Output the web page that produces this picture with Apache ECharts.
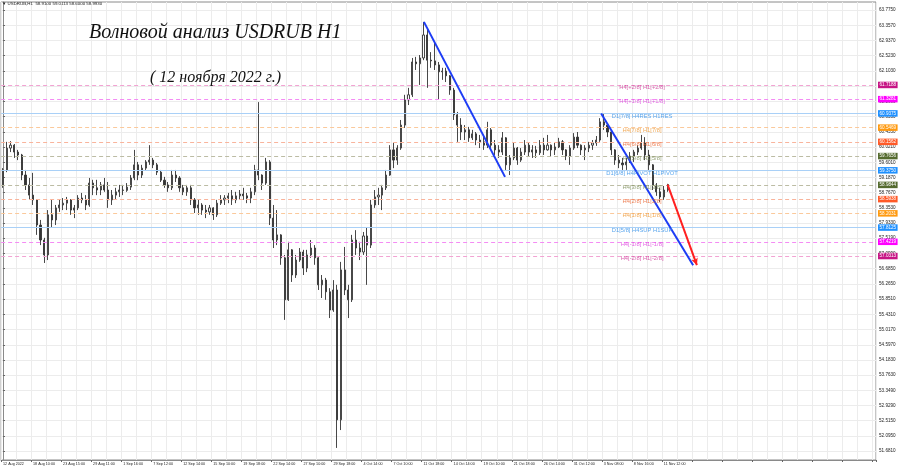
<!DOCTYPE html>
<html><head><meta charset="utf-8">
<script src="https://cdn.jsdelivr.net/npm/echarts@6/dist/echarts.min.js"></script>
<style>html,body{margin:0;padding:0;background:#fff}#c{width:900px;height:468px}</style>
</head><body><div id="c"></div>
<script>
// ---- data ----
const tickLabels = ['12 Aug 2022','18 Aug 10:00','23 Aug 15:00','29 Aug 11:00','1 Sep 16:00','7 Sep 12:00','12 Sep 14:00','15 Sep 10:00','19 Sep 18:00','22 Sep 14:00','27 Sep 10:00','29 Sep 18:00','4 Oct 14:00','7 Oct 10:00','11 Oct 18:00','14 Oct 14:00','19 Oct 10:00','21 Oct 18:00','26 Oct 14:00','31 Oct 12:00','3 Nov 08:00','8 Nov 16:00','11 Nov 12:00'];
const yTicks = [51.681,52.095,52.515,52.929,53.349,53.763,54.183,54.597,55.017,55.431,55.851,56.265,56.685,57.099,57.519,57.933,58.353,58.767,59.187,59.601,60.021,60.435,60.855,61.269,61.689,62.103,62.523,62.937,63.357,63.775];

const opens = [58.98,59.39,59.99,60.07,59.88,59.80,59.25,58.98,58.70,58.57,
57.88,57.47,57.06,58.16,58.02,58.35,58.43,58.48,58.57,58.29,
58.35,58.62,58.57,58.43,59.03,58.90,58.84,58.98,58.84,58.57,
58.70,58.79,58.84,58.83,58.92,59.17,59.53,59.25,59.44,59.61,
59.66,59.53,59.33,59.11,58.98,58.90,59.25,59.17,58.90,58.79,
58.90,58.57,58.35,58.43,58.29,58.24,58.35,58.16,58.48,58.57,
58.62,58.68,58.57,58.68,58.73,58.68,58.62,58.79,59.39,59.25,
59.03,59.61,58.07,57.47,57.61,56.98,55.83,57.20,56.51,56.92,
57.14,56.70,57.06,57.25,56.98,56.24,56.37,56.05,55.55,56.10,
52.54,56.65,56.10,55.83,57.47,57.25,57.14,57.58,57.33,58.43,
58.65,58.70,58.90,59.25,59.94,59.66,59.99,60.62,61.31,61.45,
62.35,62.30,62.46,63.09,62.40,62.38,62.27,62.08,62.10,61.97,
61.58,60.90,60.62,60.43,60.49,60.27,60.38,60.21,60.16,60.07,
60.49,60.07,59.94,59.88,60.27,59.53,59.72,59.99,59.66,59.88,
60.07,59.88,59.94,59.86,60.07,59.94,60.07,59.94,60.02,60.16,
59.94,59.77,59.99,60.29,60.07,59.94,59.99,60.07,60.13,60.21,
60.71,60.62,60.43,59.94,59.66,59.58,59.53,59.61,59.77,59.88,
59.99,60.13,59.80,59.53,58.98,58.79,58.65,58.84];
const closes = [59.39,59.99,60.07,59.88,59.80,59.25,58.98,58.70,58.57,57.88,
57.47,57.06,58.16,58.02,58.35,58.43,58.48,58.57,58.29,58.35,
58.62,58.57,58.43,59.03,58.90,58.84,58.98,58.84,58.57,58.70,
58.79,58.84,58.83,58.92,59.17,59.53,59.25,59.44,59.61,59.66,
59.53,59.33,59.11,58.98,58.90,59.25,59.17,58.90,58.79,58.90,
58.57,58.35,58.43,58.29,58.24,58.35,58.16,58.48,58.57,58.62,
58.68,58.57,58.68,58.73,58.68,58.62,58.79,59.39,59.25,59.03,
59.61,58.07,57.47,57.61,56.98,55.83,57.20,56.51,56.92,57.14,
56.70,57.06,57.25,56.98,56.24,56.37,56.05,55.55,56.10,52.54,
56.65,56.10,55.83,57.47,57.25,57.14,57.58,57.33,58.43,58.65,
58.70,58.90,59.25,59.94,59.66,59.99,60.62,61.31,61.45,62.35,
62.30,62.46,63.09,62.40,62.38,62.27,62.08,62.10,61.97,61.58,
60.90,60.62,60.43,60.49,60.27,60.38,60.21,60.16,60.07,60.49,
60.07,59.94,59.88,60.27,59.53,59.72,59.99,59.66,59.88,60.07,
59.88,59.94,59.86,60.07,59.94,60.07,59.94,60.02,60.16,59.94,
59.77,59.99,60.29,60.07,59.94,59.99,60.07,60.13,60.21,60.71,
60.62,60.43,59.94,59.66,59.58,59.53,59.61,59.77,59.88,59.99,
60.13,59.80,59.53,58.98,58.79,58.65,58.84,58.99];
const lows = [58.90,59.33,59.88,59.72,59.66,59.11,58.84,58.57,58.43,57.61,
57.33,56.84,56.92,57.80,57.88,58.24,58.29,58.29,58.16,58.07,
58.29,58.48,58.29,58.38,58.70,58.70,58.70,58.79,58.35,58.43,
58.57,58.65,58.70,58.79,58.84,59.11,59.11,59.17,59.39,59.53,
59.44,59.25,59.06,58.90,58.79,58.84,59.06,58.79,58.70,58.68,
58.43,58.21,58.16,58.16,58.07,58.16,58.02,58.10,58.43,58.43,
58.48,58.43,58.48,58.57,58.57,58.48,58.48,58.70,59.11,58.84,
58.98,57.88,57.25,57.33,56.79,55.28,55.80,56.32,56.43,56.87,
56.51,56.59,56.98,56.79,56.10,55.88,55.83,55.33,55.50,51.77,
52.26,55.96,55.33,55.77,57.06,56.92,57.06,56.24,57.25,58.35,
58.43,58.29,58.84,59.23,59.44,59.53,59.94,60.54,61.17,61.39,
62.13,61.72,62.40,61.64,62.19,62.13,61.31,61.86,61.80,61.45,
60.76,60.16,60.21,60.21,60.16,60.21,60.07,59.99,59.94,59.99,
59.94,59.80,59.72,59.80,59.39,59.25,59.66,59.53,59.61,59.80,
59.75,59.72,59.72,59.80,59.80,59.92,59.75,59.80,59.99,59.80,
59.66,59.53,59.94,59.99,59.80,59.66,59.88,59.94,60.05,60.16,
60.49,60.29,59.80,59.53,59.44,59.39,59.39,59.58,59.61,59.80,
59.94,59.66,59.39,58.84,58.68,58.51,58.57,58.79];
const highs = [59.44,60.16,60.18,60.10,59.94,59.83,59.39,59.17,59.31,58.59,
58.02,57.53,58.29,58.57,58.43,58.57,58.62,58.65,58.59,58.43,
58.70,58.76,58.70,59.17,59.12,59.12,59.06,59.17,59.06,58.84,
58.90,58.98,58.98,59.03,59.25,59.94,59.61,59.53,59.66,60.07,
59.72,59.58,59.39,59.20,59.06,59.39,59.39,59.22,58.98,58.98,
58.98,58.62,58.57,58.48,58.43,58.43,58.37,58.57,58.70,58.70,
58.76,58.84,58.79,58.84,58.90,58.76,58.90,59.53,61.25,59.27,
59.72,59.66,58.43,58.29,57.63,57.06,57.42,57.22,57.06,57.25,
57.20,57.20,57.47,57.33,57.00,56.51,56.43,56.15,56.37,56.24,
56.87,57.28,56.24,57.61,57.74,57.42,57.69,57.80,58.57,58.84,
58.90,58.98,59.39,60.07,60.13,60.07,60.76,61.45,61.64,62.46,
62.49,62.54,63.45,63.23,62.62,62.90,62.35,62.19,62.19,61.99,
61.64,60.98,60.81,60.62,60.57,60.49,60.43,60.35,60.35,60.71,
60.54,60.21,60.07,60.43,60.29,59.80,60.13,60.02,59.99,60.21,
60.13,60.07,60.05,60.21,60.27,60.35,60.09,60.13,60.27,60.21,
59.96,60.07,60.40,60.43,60.09,60.07,60.16,60.21,60.32,60.81,
60.92,60.65,60.46,59.96,59.80,59.72,59.72,59.88,59.94,60.07,
60.35,60.29,59.94,59.55,59.03,58.90,58.95,59.01];

const levelValues = [61.71875,61.328125,60.9375,60.546875,60.15625,59.765625,59.375,58.984375,58.59375,58.203125,57.8125,57.421875,57.03125];
const levelTags = ['61.7188','61.3281','60.9375','60.5469','60.1562','59.7656','59.3750','58.9844','58.5938','58.2031','57.8125','57.4219','57.0313'];
const levelNames = ['H4[+2/8] H1[+2/8]','H4[+1/8] H1[+1/8]','D1[7/8] H4RES H1RES','H4[7/8] H1[7/8]','H4[6/8] H1[6/8]','H4[5/8] H1[5/8]','D1[6/8] H4PIVOT H1PIVOT','H4[3/8] H1[3/8]','H4[2/8] H1[2/8]','H4[1/8] H1[1/8]','D1[5/8] H4SUP H1SUP','H4[-1/8] H1[-1/8]','H4[-2/8] H1[-2/8]'];
const levelKinds = ['pink','mag','blue','orange','red','olive','blue','olive','red','orange','blue','mag','pink'];

const trendBlue1 = [[112.1, 63.45],[133.7, 59.20]];
const trendBlue2 = [[159.3, 60.94],[183.8, 56.78]];
const trendRed   = [[177.0, 58.99],[184.8, 56.78]];
const levelLabelX = 170.2;

// ---- styles ----
const kindStyle = {
  pink:  {line:'#f2a3d3', text:'#d03a98', box:'#c71585', dash:true},
  mag:   {line:'#f48cf4', text:'#dc3cdc', box:'#ff00ff', dash:true},
  blue:  {line:'#a9d0f7', text:'#2f8fe8', box:'#1e90ff', dash:false},
  orange:{line:'#fbc99b', text:'#ee9630', box:'#ff9a10', dash:true},
  red:   {line:'#f9b49c', text:'#ea6430', box:'#ff5a28', dash:true},
  olive: {line:'#bcbca4', text:'#7a8c58', box:'#556b2f', dash:true}
};

const N = 233;
const categories = Array.from({length:N}, (_, i) => 'b' + i);
const candles = closes.map((c, i) => [opens[i], c, lows[i], highs[i]]);

const levelLines = levelValues.map((v, i) => {
  const s = kindStyle[levelKinds[i]];
  return {
    yAxis: v,
    lineStyle: {color: s.line, width: 1, type: s.dash ? [4, 3] : 'solid'},
    label: {show: true, position: 'end', distance: 2, formatter: levelTags[i],
      backgroundColor: s.box, color: '#fff', fontSize: 4.6, padding: [1, 1.5, 0.5, 1.5],
      fontFamily: 'Liberation Sans'}
  };
});

const levelLabelData = levelValues.map((v, i) => ({
  value: [levelLabelX, v],
  label: {color: kindStyle[levelKinds[i]].text}
}));

const chart = echarts.init(document.getElementById('c'));
chart.setOption({
  animation: false,
  backgroundColor: '#fff',
  title: [
    {text: 'Волновой анализ USDRUB H1', left: 89, top: 23, padding: 0,
      textStyle: {fontFamily: 'Liberation Serif', fontStyle: 'italic', fontWeight: 'normal', fontSize: 20, color: '#111'}},
    {text: '( 12 ноября 2022 г.)', left: 150, top: 70, padding: 0,
      textStyle: {fontFamily: 'Liberation Serif', fontStyle: 'italic', fontWeight: 'normal', fontSize: 16, color: '#111'}},
    {text: '▼ USDRUB,H1  58.9100 59.0113 58.6000 58.9930', left: 2, top: 2, padding: 0,
      textStyle: {fontFamily: 'Liberation Sans', fontWeight: 'normal', fontSize: 4.4, color: '#222'}}
  ],
  grid: {left: 1, right: 24, top: 2, bottom: 8, show: true, borderColor: '#8a8a8a', borderWidth: 1},
  xAxis: [
    {type: 'category', data: categories, boundaryGap: true,
      axisLine: {show: true, lineStyle: {color: '#8a8a8a'}},
      axisTick: {show: true, interval: 7, length: 2, lineStyle: {color: '#666'}},
      axisLabel: {interval: 7, fontSize: 3.7, color: '#222', align: 'left', margin: 2,
        fontFamily: 'Liberation Sans',
        formatter: (val, idx) => tickLabels[idx / 8] || ''},
      splitLine: {show: true, interval: 3, lineStyle: {color: '#ececec', width: 1}}},
    {type: 'value', min: -0.5, max: N - 0.5, show: false}
  ],
  yAxis: {type: 'value', position: 'right', min: 51.439, max: 63.994, scale: true,
    axisLine: {show: true, lineStyle: {color: '#8a8a8a'}},
    axisTick: {show: true, length: 2, customValues: yTicks, lineStyle: {color: '#666'}},
    axisLabel: {customValues: yTicks, fontSize: 4.6, color: '#222', margin: 3,
      fontFamily: 'Liberation Sans', formatter: v => v.toFixed(4)},
    splitLine: {show: true, lineStyle: {color: '#ececec', width: 1}}},
  series: [
    {type: 'candlestick', data: candles, barWidth: 1.6,
      itemStyle: {color: '#ffffff', color0: '#333', borderColor: '#333', borderColor0: '#333', borderWidth: 0.9},
      markLine: {silent: true, symbol: ['none', 'none'], animation: false, data: levelLines}},
    {type: 'scatter', xAxisIndex: 1, data: levelLabelData, symbolSize: 0, silent: true, z: 5,
      label: {show: true, position: 'inside', offset: [0, 2.5], fontSize: 5.8, fontFamily: 'Liberation Sans',
        formatter: p => levelNames[p.dataIndex]},
      markLine: {silent: true, animation: false, symbol: ['none', 'none'], label: {show: false},
        data: [
          [{coord: trendBlue1[0]}, {coord: trendBlue1[1]}],
          [{coord: trendBlue2[0]}, {coord: trendBlue2[1]}],
          [{coord: trendRed[0], lineStyle: {color: '#ff2020', width: 2, type: 'solid'}},
           {coord: trendRed[1], symbol: 'arrow', symbolSize: [5, 7]}]
        ],
        lineStyle: {color: '#1d3cf5', width: 2, type: 'solid'}}}
  ]
});
</script></body></html>
